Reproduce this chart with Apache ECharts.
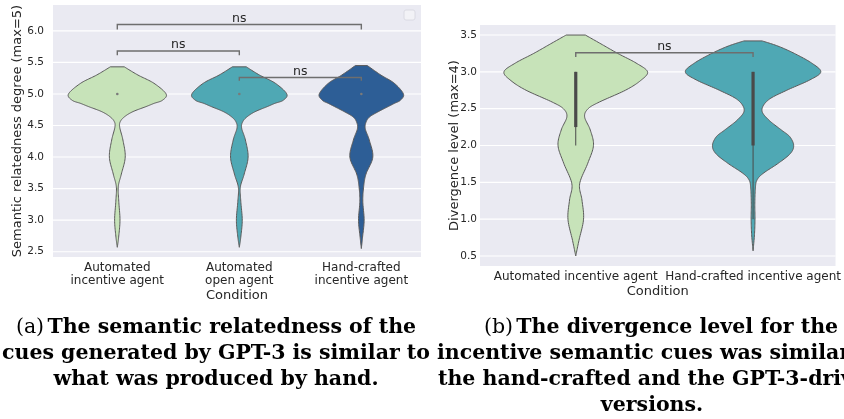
<!DOCTYPE html>
<html>
<head>
<meta charset="utf-8">
<script src="https://cdn.jsdelivr.net/npm/echarts@6/dist/echarts.min.js"></script>
<style>
  html, body { margin: 0; padding: 0; background: #fff; }
  #chart { width: 844px; height: 419px; }
</style>
</head>
<body>
<div id="chart"></div>
<script>
// panel (a): semantic relatedness
const catsA = ['Automated\nincentive agent', 'Automated\nopen agent', 'Hand-crafted\nincentive agent']
const ticksA = [2.5, 3.0, 3.5, 4.0, 4.5, 5.0, 5.5, 6.0]
// violin outline: [value, half width as share of one category step]
const violinA1 = [[2.57, 0], [2.73, 0.011], [3.0, 0.022], [3.3, 0.012], [3.53, 0.008], [3.73, 0.033], [4.0, 0.065], [4.27, 0.046], [4.47, 0.02], [4.56, 0.024], [4.64, 0.06], [4.72, 0.128], [4.8, 0.236], [4.85, 0.30], [4.9, 0.37], [5.0, 0.40], [5.17, 0.30], [5.3, 0.169], [5.43, 0.057]]
const violinA2 = [[2.57, 0], [2.73, 0.012], [3.0, 0.024], [3.3, 0.012], [3.52, 0.008], [3.73, 0.04], [4.0, 0.072], [4.27, 0.05], [4.46, 0.019], [4.56, 0.028], [4.64, 0.065], [4.72, 0.13], [4.8, 0.23], [4.85, 0.29], [4.9, 0.36], [5.0, 0.389], [5.17, 0.295], [5.3, 0.165], [5.43, 0.057]]
const violinA3 = [[2.55, 0], [2.73, 0.01], [3.0, 0.023], [3.3, 0.012], [3.53, 0.019], [3.73, 0.038], [4.0, 0.094], [4.27, 0.065], [4.45, 0.032], [4.56, 0.04], [4.64, 0.07], [4.72, 0.14], [4.8, 0.22], [4.85, 0.27], [4.9, 0.32], [5.0, 0.345], [5.17, 0.27], [5.3, 0.16], [5.45, 0.049]]
// inner box: [low whisker, q1, median, q3, high whisker]
const boxA = [[5, 5, 5, 5, 5], [5, 5, 5, 5, 5], [5, 5, 5, 5, 5]]
// significance brackets: [from, to, line value, tick end value]
const bracketA = [[0, 2, 6.10, 6.02], [0, 1, 5.68, 5.615], [1, 2, 5.26, 5.21]]

// panel (b): divergence level
const catsB = ['Automated incentive agent', 'Hand-crafted incentive agent']
const ticksB = [0.5, 1.0, 1.5, 2.0, 2.5, 3.0, 3.5]
const violinB1 = [[0.5, 0], [0.71, 0.018], [1.0, 0.044], [1.26, 0.035], [1.48, 0.022], [1.76, 0.068], [2.0, 0.10], [2.21, 0.082], [2.39, 0.05], [2.5, 0.07], [2.59, 0.133], [2.75, 0.28], [2.88, 0.365], [3.0, 0.405], [3.12, 0.34], [3.25, 0.237], [3.38, 0.142], [3.5, 0.054]]
const violinB2 = [[0.57, 0], [0.79, 0.008], [1.0, 0.011], [1.2, 0.01], [1.42, 0.013], [1.53, 0.022], [1.62, 0.056], [1.76, 0.143], [1.89, 0.21], [2.0, 0.229], [2.12, 0.207], [2.21, 0.16], [2.35, 0.087], [2.48, 0.05], [2.62, 0.087], [2.75, 0.19], [2.89, 0.32], [3.0, 0.382], [3.12, 0.33], [3.25, 0.233], [3.35, 0.14], [3.42, 0.051]]
const boxB = [[2.0, 2.25, 3.0, 3.0, 3.0], [1.0, 2.0, 3.0, 3.0, 3.0]]
const bracketB = [[0, 1, 3.26, 3.2]]

const green = '#c7e3b9'
const teal = '#4fa8b4'
const navy = '#2d5e96'
const ink = '#262626'
const font = 'DejaVu Sans'

// catmull-rom through the outline points so the violin edge is smooth
function smoothProfile(p) {
  const out = []
  for (let k = 0; k < p.length - 1; k++) {
    const p0 = p[Math.max(k - 1, 0)], p1 = p[k], p2 = p[k + 1], p3 = p[Math.min(k + 2, p.length - 1)]
    for (let s = 0; s < 12; s++) {
      const t = s / 12, t2 = t * t, t3 = t2 * t
      const f = (a, b, c, d) => 0.5 * ((2 * b) + (-a + c) * t + (2 * a - 5 * b + 4 * c - d) * t2 + (-a + 3 * b - 3 * c + d) * t3)
      out.push([f(p0[0], p1[0], p2[0], p3[0]), Math.max(0, f(p0[1], p1[1], p2[1], p3[1]))])
    }
  }
  out.push(p[p.length - 1])
  return out
}

function violinSeries(idx, profiles, boxes, colors) {
  return {
    type: 'custom',
    xAxisIndex: idx,
    yAxisIndex: idx,
    z: 3,
    silent: true,
    data: profiles.map((p, i) => [i, p[p.length - 1][0]]),
    encode: { x: 0, y: 1 },
    renderItem(params, api) {
      const i = api.value(0)
      const dense = smoothProfile(profiles[i])
      const step = api.size([1, 0], [i, 3])[0]
      const cx = api.coord([i, 3])[0]
      const right = dense.map(d => [cx + d[1] * step, api.coord([i, d[0]])[1]])
      const left = right.slice().reverse().map(pt => [2 * cx - pt[0], pt[1]])
      const children = [{
        type: 'polygon',
        shape: { points: right.concat(left) },
        style: { fill: colors[i], stroke: '#5a5a5a', lineWidth: 1 }
      }]
      const b = boxes[i]
      const yLo = api.coord([i, b[0]])[1], yQ1 = api.coord([i, b[1]])[1]
      const yQ3 = api.coord([i, b[3]])[1], yHi = api.coord([i, b[4]])[1]
      if (b[1] === b[3]) {
        children.push({ type: 'circle', shape: { cx: cx, cy: yQ1, r: 1.3 }, style: { fill: '#7a7a7a' } })
      } else {
        children.push({ type: 'line', shape: { x1: cx, y1: yLo, x2: cx, y2: yHi }, style: { stroke: '#4a4a4a', lineWidth: 1 } })
        children.push({ type: 'line', shape: { x1: cx, y1: yQ1, x2: cx, y2: yQ3 }, style: { stroke: '#4a4a4a', lineWidth: 3.2 } })
      }
      return { type: 'group', children }
    }
  }
}

function gridLineSeries(idx, ticks) {
  return {
    type: 'custom',
    xAxisIndex: idx,
    yAxisIndex: idx,
    z: 1,
    silent: true,
    data: ticks.map(v => [0, v]),
    encode: { x: 0, y: 1 },
    renderItem(params, api) {
      const cs = params.coordSys
      const y = api.coord([0, api.value(1)])[1]
      return { type: 'line', shape: { x1: cs.x, y1: y, x2: cs.x + cs.width, y2: y }, style: { stroke: '#ffffff', lineWidth: 1.1 } }
    }
  }
}

function bracketSeries(idx, brackets) {
  return {
    type: 'custom',
    xAxisIndex: idx,
    yAxisIndex: idx,
    z: 5,
    silent: true,
    data: brackets,
    encode: { x: [0, 1], y: [2, 3] },
    renderItem(params, api) {
      const a = api.coord([api.value(0), api.value(2)])
      const b = api.coord([api.value(1), api.value(2)])
      const e = api.coord([api.value(0), api.value(3)])[1]
      return {
        type: 'group',
        children: [{
          type: 'polyline',
          shape: { points: [[a[0], e], a, b, [b[0], e]] },
          style: { stroke: '#6e6e6e', lineWidth: 1.4, fill: null }
        }, {
          type: 'text',
          x: (a[0] + b[0]) / 2,
          y: a[1] + 0.5,
          style: { text: 'ns', fill: ink, font: '12.5px "DejaVu Sans"', align: 'center', verticalAlign: 'bottom' }
        }]
      }
    }
  }
}

function valueAxis(idx, min, max, ticks, name, nameGap, size, margin) {
  return {
    gridIndex: idx,
    type: 'value',
    min: min,
    max: max,
    name: name,
    nameLocation: 'middle',
    nameGap: nameGap,
    nameMoveOverlap: false,
    nameTextStyle: { color: ink, fontSize: 13, fontFamily: font },
    axisLine: { show: false },
    axisTick: { show: false },
    splitLine: { show: false },
    axisLabel: {
      customValues: ticks,
      formatter: v => v.toFixed(1),
      color: ink, fontSize: size, fontFamily: font, margin: margin
    }
  }
}

// the seaborn x range is a little off-centre, so the categories sit on a value axis
function catAxis(idx, cats, min, max, nameGap) {
  return {
    gridIndex: idx,
    type: 'value',
    min: min,
    max: max,
    name: 'Condition',
    nameLocation: 'middle',
    nameGap: nameGap,
    nameMoveOverlap: false,
    nameTextStyle: { color: ink, fontSize: 13, fontFamily: font },
    axisLine: { show: false },
    axisTick: { show: false },
    splitLine: { show: false },
    axisLabel: {
      customValues: cats.map((c, i) => i),
      formatter: v => cats[Math.round(v)],
      color: ink, fontSize: 12, fontFamily: font, lineHeight: 13.5, margin: 4
    }
  }
}

const capFont = 'DejaVu Serif'
function caption(x, y, text, align, tag) {
  return {
    type: 'text',
    x: x,
    y: y,
    silent: true,
    style: {
      text: tag ? '{r|' + tag + '} {b|' + text + '}' : '{b|' + text + '}',
      textAlign: align,
      textVerticalAlign: 'middle',
      rich: {
        r: { fontFamily: capFont, fontSize: 20.5, fontWeight: 'normal', fill: '#000' },
        b: { fontFamily: capFont, fontSize: 20.5, fontWeight: 'bold', fill: '#000' }
      }
    }
  }
}

const chart = echarts.init(document.getElementById('chart'), null, { renderer: 'canvas' })

chart.setOption({
  animation: false,
  backgroundColor: '#ffffff',
  grid: [
    { left: 53, top: 5, width: 368, height: 252, show: true, backgroundColor: '#eaeaf2', borderWidth: 0 },
    { left: 480, top: 25, width: 361, height: 241, show: true, backgroundColor: '#eaeaf2', borderWidth: 0 }
  ],
  xAxis: [catAxis(0, catsA, -0.527, 2.489, 32), catAxis(1, catsB, -0.54, 1.465, 19)],
  yAxis: [
    valueAxis(0, 2.416, 6.41, ticksA, 'Semantic relatedness degree (max=5)', 29, 10.5, 9),
    valueAxis(1, 0.364, 3.636, ticksB, 'Divergence level (max=4)', 18.5, 10.5, 3)
  ],
  series: [
    gridLineSeries(0, ticksA),
    gridLineSeries(1, ticksB),
    violinSeries(0, [violinA1, violinA2, violinA3], boxA, [green, teal, navy]),
    violinSeries(1, [violinB1, violinB2], boxB, [green, teal]),
    bracketSeries(0, bracketA),
    bracketSeries(1, bracketB)
  ],
  graphic: [
    // empty legend frame in the corner of panel (a)
    { type: 'rect', shape: { x: 404, y: 10, width: 11, height: 10, r: 2 }, style: { fill: '#f2f2f6', stroke: '#d6d6de', lineWidth: 0.8 }, silent: true },
    caption(216, 328, 'The semantic relatedness of the', 'center', '(a)'),
    caption(216, 354, 'cues generated by GPT-3 is similar to', 'center'),
    caption(216, 380, 'what was produced by hand.', 'center'),
    caption(661, 328, 'The divergence level for the', 'center', '(b)'),
    caption(437, 354, 'incentive semantic cues was similar to', 'left'),
    caption(438, 380, 'the hand-crafted and the GPT-3-driven', 'left'),
    caption(652, 406, 'versions.', 'center')
  ]
})
</script>
</body>
</html>
